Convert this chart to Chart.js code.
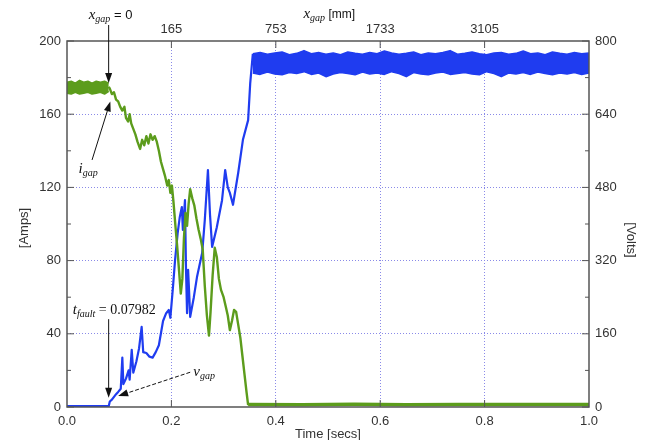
<!DOCTYPE html>
<html>
<head>
<meta charset="utf-8">
<script src="https://cdn.jsdelivr.net/npm/chart.js@4.4.1/dist/chart.umd.min.js"></script>
<style>
  body { margin: 0; background: #fff; }
  #wrap { width: 647px; height: 440px; }
</style>
</head>
<body>
<div id="wrap"><canvas id="gapChart" width="647" height="440"></canvas></div>
<script>
// tick labels
const timeTicks = [0, 0.2, 0.4, 0.6, 0.8, 1.0];
const ampTicks = [0, 40, 80, 120, 160, 200];
const voltTicks = [0, 160, 320, 480, 640, 800];
const gapTickTimes = [0.2, 0.4, 0.6, 0.8];
const gapTickLabels = ['165', '753', '1733', '3105'];

// i_gap [Amps] - flat part before the fault (upper / lower edge of the noise band)
const iFlatStart = 0, iFlatEnd = 0.08;
const iFlatHi = [177.5, 178, 177, 178.5, 177.5, 178, 177, 178, 177.5, 178, 177];
const iFlatLo = [171.5, 171, 172, 171, 171.5, 172, 171, 171.5, 172, 171, 172.5];

// i_gap after the fault
const iTime = [0.080, 0.082, 0.086, 0.090, 0.094, 0.098, 0.102, 0.106, 0.110, 0.113,
               0.117, 0.120, 0.123, 0.127, 0.131, 0.135, 0.140, 0.144, 0.148, 0.152,
               0.156, 0.160, 0.164, 0.168, 0.172, 0.176, 0.180, 0.184, 0.188, 0.192,
               0.195, 0.198, 0.201, 0.204, 0.208, 0.211, 0.214, 0.218, 0.221, 0.224,
               0.227, 0.230, 0.233, 0.236, 0.240, 0.244, 0.248, 0.252, 0.256, 0.260,
               0.264, 0.268, 0.272, 0.275, 0.279, 0.283, 0.287, 0.291, 0.295, 0.300,
               0.304, 0.308, 0.312, 0.316, 0.320, 0.324, 0.328, 0.332, 0.336, 0.340,
               0.344, 0.347];
const iAmps = [175, 174, 171, 172, 168, 167, 164, 162, 164, 158,
               156, 160, 155, 152, 149, 145, 141, 146, 143, 148,
               144, 149, 146, 148, 145, 140, 134, 130, 126, 121,
               124, 117, 121, 112, 98, 88, 77, 62, 70, 92,
               106, 99, 111, 119, 114, 110, 103, 97, 92, 86,
               66, 50, 39, 52, 72, 87, 82, 70, 64, 60,
               55, 50, 42, 47, 53, 52, 45, 38, 28, 18,
               8, 1];

// i_gap after arc extinction
const iTailTime = [0.347, 0.45, 0.55, 0.65, 0.75, 0.85, 1.0];
const iTailAmps = [1.4, 1.2, 1.5, 1.2, 1.4, 1.3, 1.4];

// v_gap [Volts]
const vTime = [0, 0.080, 0.082, 0.086, 0.090, 0.094, 0.098, 0.103, 0.106, 0.108,
               0.113, 0.118, 0.120, 0.124, 0.127, 0.133, 0.138, 0.143, 0.146, 0.152,
               0.158, 0.164, 0.170, 0.176, 0.184, 0.190, 0.195, 0.198, 0.203, 0.207,
               0.212, 0.216, 0.220, 0.222, 0.226, 0.228, 0.230, 0.232, 0.234, 0.236,
               0.243, 0.249, 0.259, 0.264, 0.270, 0.274, 0.278, 0.287, 0.297, 0.303,
               0.308, 0.312, 0.318, 0.328, 0.337, 0.347, 0.351, 0.356];
const vVolts = [2, 2, 12, 16, 22, 28, 33, 40, 108, 50,
                62, 80, 60, 125, 75, 100, 128, 175, 120, 118,
                110, 108, 120, 135, 188, 205, 212, 195, 262, 321,
                380, 415, 437, 387, 452, 300, 205, 300, 250, 197,
                240, 284, 337, 409, 518, 420, 350, 393, 452, 518,
                480, 468, 442, 512, 584, 627, 708, 772];

// v_gap steady part after the arc (upper / lower edge of the ripple band)
const vBandStart = 0.356, vBandEnd = 1.0;
const vBandHi = [772, 775, 771, 774, 776, 770, 773, 779, 772, 775,
                 771, 774, 770, 776, 773, 771, 775, 772, 778, 774,
                 771, 773, 776, 770, 774, 772, 775, 779, 771, 773,
                 776, 772, 770, 774, 775, 771, 773, 778, 772, 774,
                 770, 776, 773, 771, 775, 772, 774];
const vBandLo = [730, 727, 732, 728, 726, 731, 729, 733, 727, 730,
                 722, 728, 731, 729, 726, 732, 728, 730, 727, 733,
                 729, 722, 731, 728, 726, 730, 732, 727, 729, 731,
                 728, 726, 733, 729, 722, 730, 728, 731, 727, 732,
                 729, 726, 730, 728, 731, 727, 730];

const GREEN = '#5c9c1c';
const BLUE = '#1f3cf0';
const GRID = '#8a8ae8';
const FRAME = '#555';
const TXT = '#333';
const SANS = "'Liberation Sans', Arial, sans-serif";
const SERIF = "'Liberation Serif', 'Times New Roman', serif";

// samples evenly spread between start and end
const sampled = (vals, t0, t1) => vals.map((v, i) => ({ x: t0 + (t1 - t0) * i / (vals.length - 1), y: v }));
const pairs = (ts, vs) => ts.map((t, i) => ({ x: t, y: vs[i] }));

// draws text made of parts: [text, font, yShift]
function richText(ctx, x, y, parts) {
    let cx = x;
    parts.forEach(([txt, font, dy]) => {
        ctx.font = font;
        ctx.fillText(txt, cx, y + dy);
        cx += ctx.measureText(txt).width;
    });
    return cx;
}

function arrow(ctx, x1, y1, x2, y2, dashed) {
    const ang = Math.atan2(y2 - y1, x2 - x1);
    const hl = 10, hw = 3.5;
    ctx.save();
    ctx.strokeStyle = '#111';
    ctx.fillStyle = '#111';
    ctx.lineWidth = 1;
    if (dashed) ctx.setLineDash([4, 2]);
    ctx.beginPath();
    ctx.moveTo(x1, y1);
    ctx.lineTo(x2 - Math.cos(ang) * hl * 0.8, y2 - Math.sin(ang) * hl * 0.8);
    ctx.stroke();
    ctx.setLineDash([]);
    ctx.beginPath();
    ctx.moveTo(x2, y2);
    ctx.lineTo(x2 - Math.cos(ang) * hl + Math.sin(ang) * hw, y2 - Math.sin(ang) * hl - Math.cos(ang) * hw);
    ctx.lineTo(x2 - Math.cos(ang) * hl - Math.sin(ang) * hw, y2 - Math.sin(ang) * hl + Math.cos(ang) * hw);
    ctx.closePath();
    ctx.fill();
    ctx.restore();
}

// frame, inward tick marks, axis titles and the annotations
const decorPlugin = {
    id: 'decor',
    afterDraw(chart) {
        const { ctx, chartArea: a, scales } = chart;
        const sx = scales.x, sy = scales.y, sv = scales.y2;
        ctx.save();
        ctx.strokeStyle = FRAME;
        ctx.lineWidth = 1.5;
        ctx.strokeRect(a.left, a.top, a.right - a.left, a.bottom - a.top);

        ctx.lineWidth = 1;
        ctx.beginPath();
        ampTicks.forEach(v => {
            const p = sy.getPixelForValue(v);
            ctx.moveTo(a.left, p); ctx.lineTo(a.left + 7, p);
            const m = sy.getPixelForValue(v + 20);
            if (v < 200) { ctx.moveTo(a.left, m); ctx.lineTo(a.left + 4, m); }
        });
        voltTicks.forEach(v => {
            const p = sv.getPixelForValue(v);
            ctx.moveTo(a.right, p); ctx.lineTo(a.right - 7, p);
            const m = sv.getPixelForValue(v + 80);
            if (v < 800) { ctx.moveTo(a.right, m); ctx.lineTo(a.right - 4, m); }
        });
        gapTickTimes.forEach(t => {
            const p = sx.getPixelForValue(t);
            ctx.moveTo(p, a.top); ctx.lineTo(p, a.top + 7);
            ctx.moveTo(p, a.bottom); ctx.lineTo(p, a.bottom - 7);
        });
        ctx.stroke();

        // axis titles
        ctx.fillStyle = TXT;
        ctx.textBaseline = 'middle';
        ctx.textAlign = 'center';
        ctx.font = '13px ' + SANS;
        ctx.fillText('Time [secs]', (a.left + a.right) / 2, a.bottom + 27);
        ctx.save();
        ctx.translate(24, (a.top + a.bottom) / 2 + 4);
        ctx.rotate(-Math.PI / 2);
        ctx.fillText('[Amps]', 0, 0);
        ctx.restore();
        ctx.save();
        ctx.translate(a.right + 42, (a.top + a.bottom) / 2 + 16);
        ctx.rotate(Math.PI / 2);
        ctx.fillText('[Volts]', 0, 0);
        ctx.restore();

        ctx.textAlign = 'left';
        ctx.textBaseline = 'alphabetic';
        ctx.fillStyle = '#111';
        const itSerif = 'italic 15px ' + SERIF;
        const itSub = 'italic 10px ' + SERIF;
        // top axis title
        richText(ctx, sx.getPixelForValue(0.453), a.top - 23, [
            ['x', itSerif, 0], ['gap', itSub, 3], [' [mm]', '12px ' + SANS, 0]]);

        // x_gap = 0 marker
        const tf = sx.getPixelForValue(0.0798);
        richText(ctx, tf - 20, a.top - 22, [
            ['x', itSerif, 0], ['gap', itSub, 3], [' = 0', '13px ' + SANS, 0]]);
        arrow(ctx, tf, a.top - 16, tf, sy.getPixelForValue(177));

        // i_gap
        richText(ctx, sx.getPixelForValue(0.022), sy.getPixelForValue(128), [
            ['i', itSerif, 0], ['gap', itSub, 3]]);
        arrow(ctx, sx.getPixelForValue(0.048), sy.getPixelForValue(135),
              sx.getPixelForValue(0.083), sy.getPixelForValue(167));

        // t_fault
        richText(ctx, sx.getPixelForValue(0.011), sy.getPixelForValue(51), [
            ['t', itSerif, 0], ['fault', itSub, 3], [' = 0.07982', '14px ' + SERIF, 0]]);
        arrow(ctx, tf, sy.getPixelForValue(48), tf, sy.getPixelForValue(5));

        // v_gap
        richText(ctx, sx.getPixelForValue(0.242), sy.getPixelForValue(17), [
            ['v', itSerif, 0], ['gap', itSub, 3]]);
        arrow(ctx, sx.getPixelForValue(0.236), sy.getPixelForValue(19),
              sx.getPixelForValue(0.098), sy.getPixelForValue(6), true);
        ctx.restore();
    }
};

const edgeGrid = (max) => (c) => (c.tick && (c.tick.value === 0 || Math.abs(c.tick.value - max) < 1e-9)) ? 'rgba(0,0,0,0)' : GRID;

new Chart(document.getElementById('gapChart'), {
    type: 'line',
    data: {
        datasets: [
            { data: pairs(iTime, iAmps), yAxisID: 'y', borderColor: GREEN, borderWidth: 2.4 },
            { data: sampled(iFlatHi, iFlatStart, iFlatEnd), yAxisID: 'y', borderColor: GREEN, borderWidth: 1.5 },
            { data: sampled(iFlatLo, iFlatStart, iFlatEnd), yAxisID: 'y', borderColor: GREEN, borderWidth: 1.5,
              fill: '-1', backgroundColor: GREEN },
            { data: pairs(iTailTime, iTailAmps), yAxisID: 'y', borderColor: GREEN, borderWidth: 3.5 },
            { data: pairs(vTime, vVolts), yAxisID: 'y2', borderColor: BLUE, borderWidth: 2.2 },
            { data: sampled(vBandHi, vBandStart, vBandEnd), yAxisID: 'y2', borderColor: BLUE, borderWidth: 1.5 },
            { data: sampled(vBandLo, vBandStart, vBandEnd), yAxisID: 'y2', borderColor: BLUE, borderWidth: 1.5,
              fill: '-1', backgroundColor: BLUE }
        ]
    },
    options: {
        responsive: false,
        animation: false,
        devicePixelRatio: 1,
        layout: { padding: 0 },
        elements: { point: { radius: 0 }, line: { tension: 0, borderJoinStyle: 'round' } },
        plugins: { legend: { display: false }, tooltip: { enabled: false } },
        scales: {
            x: {
                type: 'linear', position: 'bottom', min: 0, max: 1,
                afterFit: s => { s.height = 33; },
                afterBuildTicks: s => { s.ticks = timeTicks.map(v => ({ value: v })); },
                ticks: { padding: 7, color: TXT, font: { family: SANS, size: 13 }, maxRotation: 0,
                         callback: v => v.toFixed(1) },
                grid: { drawTicks: false, color: edgeGrid(1), lineWidth: 1 },
                border: { display: false, dash: [1, 2] }
            },
            x2: {
                type: 'linear', position: 'top', min: 0, max: 1,
                afterFit: s => { s.height = 41; },
                afterBuildTicks: s => { s.ticks = gapTickTimes.map(v => ({ value: v })); },
                ticks: { padding: 4, color: TXT, font: { family: SANS, size: 13 }, maxRotation: 0,
                         callback: (v, i) => gapTickLabels[i] },
                grid: { drawTicks: false, drawOnChartArea: false },
                border: { display: false }
            },
            y: {
                position: 'left', min: 0, max: 200,
                afterFit: s => { s.width = 67; },
                afterBuildTicks: s => { s.ticks = ampTicks.map(v => ({ value: v })); },
                ticks: { padding: 6, color: TXT, font: { family: SANS, size: 13 } },
                grid: { drawTicks: false, color: edgeGrid(200), lineWidth: 1 },
                border: { display: false, dash: [1, 2] }
            },
            y2: {
                position: 'right', min: 0, max: 800,
                afterFit: s => { s.width = 58; },
                afterBuildTicks: s => { s.ticks = voltTicks.map(v => ({ value: v })); },
                ticks: { padding: 6, color: TXT, font: { family: SANS, size: 13 } },
                grid: { drawTicks: false, drawOnChartArea: false },
                border: { display: false }
            }
        }
    },
    plugins: [decorPlugin]
});
</script>
</body>
</html>
